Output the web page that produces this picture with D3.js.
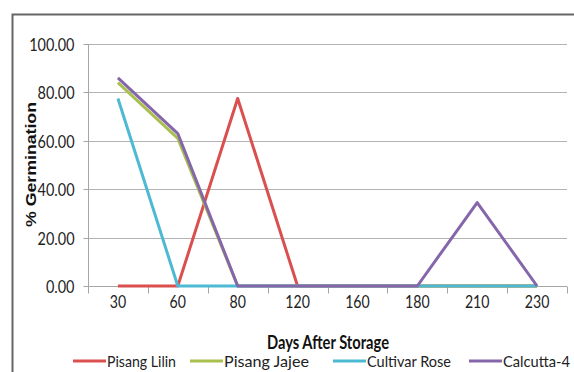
<!DOCTYPE html>
<html><head><meta charset="utf-8">
<script src="https://cdn.jsdelivr.net/npm/d3@7"></script>
<style>
html,body{margin:0;padding:0;background:#fff;}
svg{display:block;}
</style></head>
<body>
<svg id="c" width="574" height="372"></svg>
<script>
const categories = ["30","60","80","120","160","180","210","230"];
const seriesNames = ["Pisang Lilin","Pisang Jajee","Cultivar Rose","Calcutta-4"];
const pisangLilin  = [0, 0, 77.5, 0, 0, 0, 0, 0];
const pisangJajee  = [84, 61, 0, 0, 0, 0, 0, 0];
const cultivarRose = [77.5, 0, 0, 0, 0, 0, 0, 0];
const calcutta4    = [86, 63, 0, 0, 0, 0, 34.5, 0];
const yTicks = [0, 20, 40, 60, 80, 100];
const colors = ["#D9504E", "#A8C04E", "#4DB9D3", "#8566AA"];
const seriesValues = [pisangLilin, pisangJajee, cultivarRose, calcutta4];

const svg = d3.select("#c");
const L = 88, R = 567, T = 44, B = 286;
const x = d3.scaleBand().domain(categories).range([L, R]).padding(0);
const y = d3.scaleLinear().domain([0, 100]).range([B, T]);

function squeeze(sel, f) {
  sel.each(function(){
    const w = this.getComputedTextLength();
    d3.select(this).attr("textLength", w * f).attr("lengthAdjust", "spacingAndGlyphs");
  });
}

// outer frame
svg.append("path").attr("d", `M12.5,380 L12.5,14.5 L580,14.5`)
  .attr("fill","none").attr("stroke","#666").attr("stroke-width",2);

// gridlines
svg.append("g").selectAll("line").data(yTicks.filter(d => d > 0)).join("line")
  .attr("x1", L).attr("x2", R).attr("y1", d => Math.round(y(d)) + 0.5).attr("y2", d => Math.round(y(d)) + 0.5)
  .attr("stroke", "#b3b3b3").attr("stroke-width", 1);

// y axis
const yAxis = svg.append("g").attr("transform", `translate(${L + 0.5},0)`)
  .call(d3.axisLeft(y).tickValues(yTicks).tickFormat(d3.format(".2f")).tickSize(5).tickPadding(9));
yAxis.select(".domain").attr("stroke", "#a6a6a6").attr("d", `M0,${T}V${B}`);
yAxis.selectAll(".tick line").attr("stroke", "#a6a6a6");
yAxis.selectAll(".tick").attr("transform", d => `translate(0,${Math.round(y(d)) + 0.5})`);
yAxis.selectAll("text").attr("font-family", "Lato").attr("font-size", 17).attr("fill", "#222").attr("dy", "0.36em");
squeeze(yAxis.selectAll("text"), 0.85);

// x axis
const xAxis = svg.append("g").attr("transform", `translate(0,${B + 0.5})`)
  .call(d3.axisBottom(x).tickSize(0).tickPadding(21));
xAxis.select(".domain").attr("stroke", "#a6a6a6").attr("d", `M${L},0H${R}`);
xAxis.selectAll("text").attr("font-family", "Lato").attr("font-size", 17).attr("fill", "#222").attr("dy", 0);
squeeze(xAxis.selectAll("text"), 0.83);
const bounds = categories.map(c => x(c)).concat([x.range()[1]]);
xAxis.append("g").selectAll("line").data(bounds).join("line")
  .attr("x1", d => Math.round(d) + 0.5).attr("x2", d => Math.round(d) + 0.5)
  .attr("y1", 0).attr("y2", 7).attr("stroke", "#a6a6a6");

// lines
const line = d3.line().x((d, i) => x(categories[i]) + x.bandwidth() / 2).y(d => y(d));
svg.append("g").selectAll("path").data(seriesValues).join("path")
  .attr("d", d => line(d)).attr("fill", "none")
  .attr("stroke", (d, i) => colors[i]).attr("stroke-width", 3)
  .attr("stroke-linejoin", "round");

// axis titles
const xt = svg.append("text").attr("x", (L + R) / 2 + 0.5).attr("y", 349).attr("text-anchor", "middle")
  .attr("font-family", "Lato").attr("font-weight", "bold").attr("font-size", 18).attr("fill", "#111")
  .text("Days After Storage");
xt.attr("textLength", 122).attr("lengthAdjust", "spacingAndGlyphs");

const yt = svg.append("text").attr("transform", "translate(35.5,164.5) rotate(-90)").attr("text-anchor", "middle")
  .attr("font-family", "Liberation Sans").attr("font-weight", "bold").attr("font-size", 15).attr("fill", "#111")
  .text("% Germination");
yt.attr("textLength", 125).attr("lengthAdjust", "spacingAndGlyphs");

// legend
const legX = [73, 190, 333, 469];
const lg = svg.append("g").selectAll("g").data(seriesNames).join("g")
  .attr("transform", (d, i) => `translate(${legX[i]},361)`);
lg.append("line").attr("x1", 0).attr("x2", 33).attr("y1", 0).attr("y2", 0)
  .attr("stroke", (d, i) => colors[i]).attr("stroke-width", 3);
const lt = lg.append("text").attr("x", 34).attr("y", 5.5).attr("font-family", "Lato").attr("font-size", 15)
  .attr("fill", "#222").text(d => d);
lt.each(function(d, i){
  const target = [69, 85, 84, 67][i];
  d3.select(this).attr("textLength", target).attr("lengthAdjust", "spacingAndGlyphs");
});
</script>
</body></html>
